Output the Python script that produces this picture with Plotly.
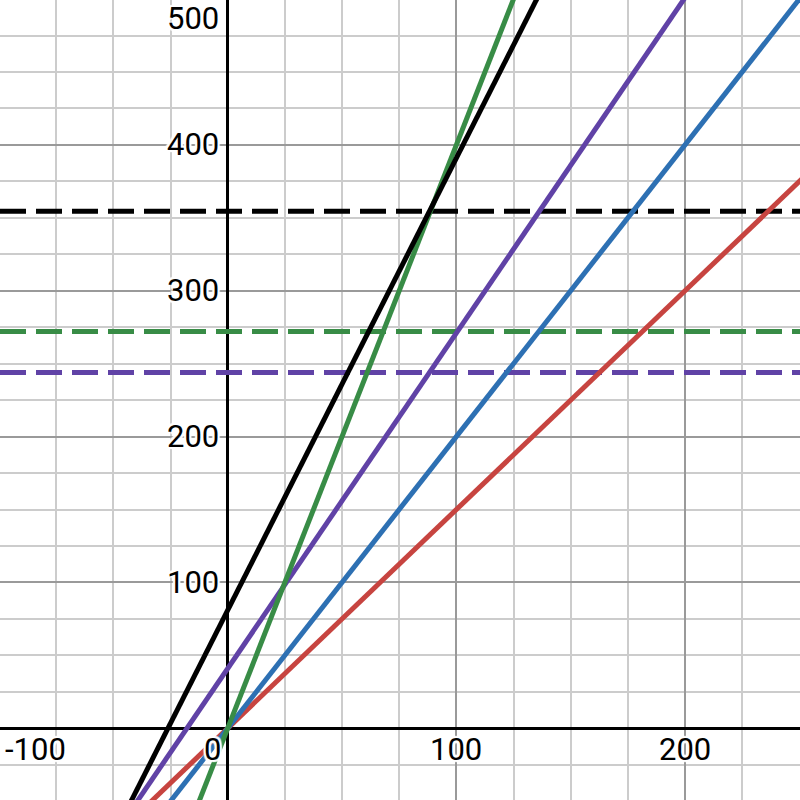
import plotly.graph_objects as go

# visible window
x_range = [-99.6, 250.3]
y_range = [-49.2, 499.4]

# solid lines: y = slope * x + intercept
line_colors = ["#c74440", "#2d70b3", "#6042a6", "#388c46", "#000000"]
line_slopes = [1.5, 2.0, 2.3, 4.0, 3.1]
line_intercepts = [0.0, 0.0, 41.0, 0.0, 81.0]

# dashed horizontal lines
dash_colors = ["#388c46", "#6042a6", "#000000"]
dash_levels = [272.0, 244.0, 354.5]

x_tick_labels = [-100, 0, 100, 200]
y_tick_labels = [100, 200, 300, 400, 500]

label_font = dict(
    family="Roboto, Arial, sans-serif",
    size=31,
    color="black",
    shadow="2px 2px 1px white, -2px -2px 1px white, 2px -2px 1px white, -2px 2px 1px white",
)

fig = go.Figure()

for color, level in zip(dash_colors, dash_levels):
    fig.add_trace(
        go.Scatter(
            x=x_range,
            y=[level, level],
            mode="lines",
            line=dict(color=color, width=5, dash="26px,10px"),
            hoverinfo="skip",
            showlegend=False,
        )
    )

for color, m, b in zip(line_colors, line_slopes, line_intercepts):
    xs = [x_range[0] - 10, x_range[1] + 10]
    fig.add_trace(
        go.Scatter(
            x=xs,
            y=[m * v + b for v in xs],
            mode="lines",
            line=dict(color=color, width=5),
            hoverinfo="skip",
            showlegend=False,
        )
    )

annotations = []

for v in x_tick_labels:
    if v == x_tick_labels[0]:
        annotations.append(dict(
            x=0, xref="paper", y=0, yref="y", text=str(v),
            xanchor="left", yanchor="middle", xshift=3, yshift=-21,
            showarrow=False, font=label_font,
        ))
    elif v == 0:
        annotations.append(dict(
            x=0, xref="x", y=0, yref="y", text="0",
            xanchor="right", yanchor="middle", xshift=-5, yshift=-21,
            showarrow=False, font=label_font,
        ))
    else:
        annotations.append(dict(
            x=v, xref="x", y=0, yref="y", text=str(v),
            xanchor="center", yanchor="middle", yshift=-21,
            showarrow=False, font=label_font,
        ))

for v in y_tick_labels:
    if v > y_range[1] - 10:
        annotations.append(dict(
            x=0, xref="x", y=1, yref="paper", text=str(v),
            xanchor="right", yanchor="top", xshift=-7, yshift=2,
            showarrow=False, font=label_font,
        ))
    else:
        annotations.append(dict(
            x=0, xref="x", y=v, yref="y", text=str(v),
            xanchor="right", yanchor="middle", xshift=-7,
            showarrow=False, font=label_font,
        ))

axis_common = dict(
    showticklabels=False,
    ticks="",
    showline=False,
    zeroline=True,
    zerolinecolor="black",
    zerolinewidth=2.5,
    dtick=100,
    tick0=0,
    showgrid=True,
    gridcolor="#9a9a9a",
    gridwidth=1.5,
    minor=dict(dtick=25, tick0=0, showgrid=True, gridcolor="#cccccc", gridwidth=1.5, ticks=""),
    fixedrange=True,
)

fig.update_layout(
    width=800,
    height=800,
    margin=dict(l=0, r=0, t=0, b=0),
    paper_bgcolor="white",
    plot_bgcolor="white",
    showlegend=False,
    annotations=annotations,
)

fig.update_xaxes(range=x_range, **axis_common)
fig.update_yaxes(range=y_range, **axis_common)

fig.write_html(
    "out.html",
    config={"displayModeBar": False},
    post_script="document.body.style.margin='0';",
)
